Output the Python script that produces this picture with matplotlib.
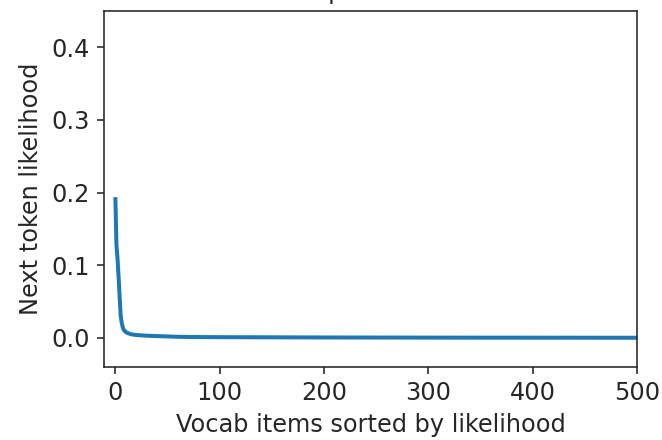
import numpy as np
import matplotlib.pyplot as plt

# sorted next-token likelihoods
rank = [0, 1, 2, 3, 4, 5, 6, 7, 8, 10, 12, 15, 20, 25, 30, 40, 50, 60, 75, 100, 150, 200, 300, 400, 500]
likelihood = [0.191, 0.128, 0.110, 0.085, 0.058, 0.032, 0.021, 0.015, 0.011, 0.008,
              0.0065, 0.005, 0.004, 0.0035, 0.003, 0.0025, 0.002, 0.0015, 0.0012, 0.001,
              0.0008, 0.0006, 0.0004, 0.0003, 0.0002]

plt.rcParams['font.family'] = ['DejaVu Sans']
plt.rcParams['text.color'] = '#262626'
plt.rcParams['axes.labelcolor'] = '#262626'
plt.rcParams['xtick.color'] = '#262626'
plt.rcParams['ytick.color'] = '#262626'
plt.rcParams['axes.edgecolor'] = '#262626'

fig = plt.figure(figsize=(662 / 144, 440 / 144), dpi=144)
ax = fig.add_axes([0.157, 0.166, 0.805, 0.809])

ax.plot(rank, likelihood, color='#1f77b4', linewidth=2)

# title sits above the top edge, only a descender shows (as in the reference)
ax.set_title('A sharp distribution', fontsize=12)
ax.set_xlabel('Vocab items sorted by likelihood', fontsize=12)
ax.set_ylabel('Next token likelihood', fontsize=12)
ax.set_xlim(-11, 500)
ax.set_ylim(-0.04, 0.45)
ax.set_xticks([0, 100, 200, 300, 400, 500])
ax.set_yticks([0.0, 0.1, 0.2, 0.3, 0.4])
ax.tick_params(labelsize=12)

fig.savefig('out.png', dpi=144)
